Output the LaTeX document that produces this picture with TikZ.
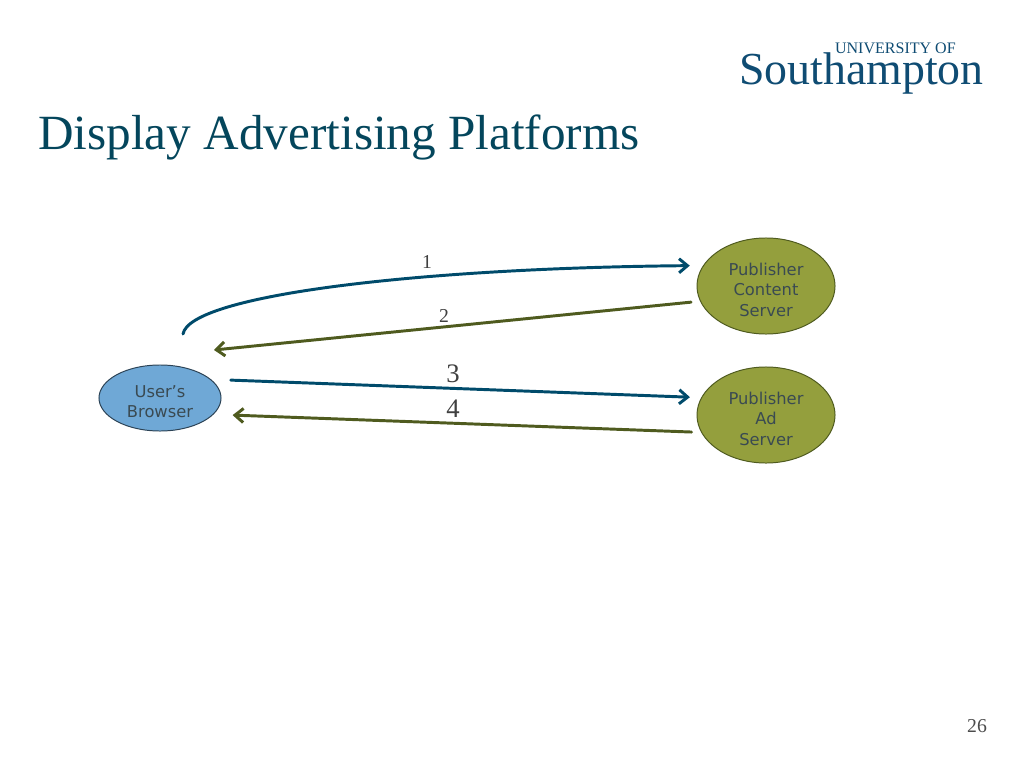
\documentclass[tikz,border=0pt]{standalone}
\usepackage{fontspec}
\setmainfont{Liberation Serif}
\setsansfont{DejaVu Sans}
\usepackage{xcolor}
\usetikzlibrary{shapes.geometric, arrows.meta, positioning}
\definecolor{tealline}{HTML}{004B6B}
\definecolor{oliveline}{HTML}{4F5B1F}
\definecolor{bluefill}{HTML}{6FA8D6}
\definecolor{olivefill}{HTML}{949F3D}
\definecolor{nodetext}{HTML}{3A4A52}
\definecolor{titleblue}{HTML}{04465C}
\definecolor{logoblue}{HTML}{0F4C73}
\tikzset{
  client/.style={ellipse, draw=black!60!bluefill, fill=bluefill, line width=0.7pt, minimum width=3.05cm, minimum height=1.65cm, inner sep=0pt, align=center, text=nodetext, text height=28.5pt, font=\sffamily\fontsize{11.6}{14.5}\selectfont},
  server/.style={ellipse, draw=oliveline, fill=olivefill, line width=0.7pt, minimum width=3.45cm, minimum height=2.4cm, inner sep=0pt, align=center, text=nodetext, text height=43pt, font=\sffamily\fontsize{11.6}{14.5}\selectfont},
  request/.style={-{Straight Barb[length=6pt, width=10pt]}, draw=tealline, line width=2.1pt, line cap=round},
  reply/.style={-{Straight Barb[length=6pt, width=10pt]}, draw=oliveline, line width=2.1pt, line cap=round},
  steplabel/.style={text=black!75, inner sep=0pt}
}
\begin{document}
\begin{tikzpicture}[x=0.025cm, y=-0.025cm]
  \useasboundingbox (0,0) rectangle (1024,768);
  \node[anchor=west, text=titleblue, inner sep=0pt, font=\fontsize{35}{40}\selectfont] (title) at (38,137) {Display Advertising Platforms};
  \node[anchor=east, text=logoblue, inner sep=0pt, font=\fontsize{32.6}{36}\selectfont] (logomain) at (984,73) {Southampton};
  \node[anchor=east, text=logoblue, inner sep=0pt, font=\fontsize{11.4}{14}\selectfont] (logotop) at (956,48) {UNIVERSITY OF};
  \node[text=black!70, inner sep=0pt, font=\fontsize{14}{16}\selectfont] (page) at (977,726) {26};

  \node[client] (browser) at (160,398) {User's\\Browser};
  \node[server] (content) at (766,286) {Publisher\\Content\\Server};
  \node[server] (adserver) at (766,415) {Publisher\\Ad\\Server};
  \coordinate (curvestart) at (183,334);
  \coordinate (replytip) at (214,350);

  \draw[request, shorten >=0.33cm] (curvestart) .. controls (190,295) and (420,268) .. (content.162.3);
  \draw[reply, shorten <=0.225cm] (content.193.9) -- (replytip);
  \draw[request, shorten <=0.49cm, shorten >=0.28cm] (browser.20.4) -- (adserver.165.6);
  \draw[reply, shorten <=0.24cm, shorten >=0.475cm] (adserver.195.1) -- (browser.-17.1);

  \node[steplabel, font=\fontsize{14}{16}\selectfont] (one) at (427,262) {1};
  \node[steplabel, font=\fontsize{14}{16}\selectfont] (two) at (444,316) {2};
  \node[steplabel, font=\fontsize{19}{21}\selectfont] (three) at (453,374) {3};
  \node[steplabel, font=\fontsize{19}{21}\selectfont] (four) at (453,409) {4};
\end{tikzpicture}
\end{document}
